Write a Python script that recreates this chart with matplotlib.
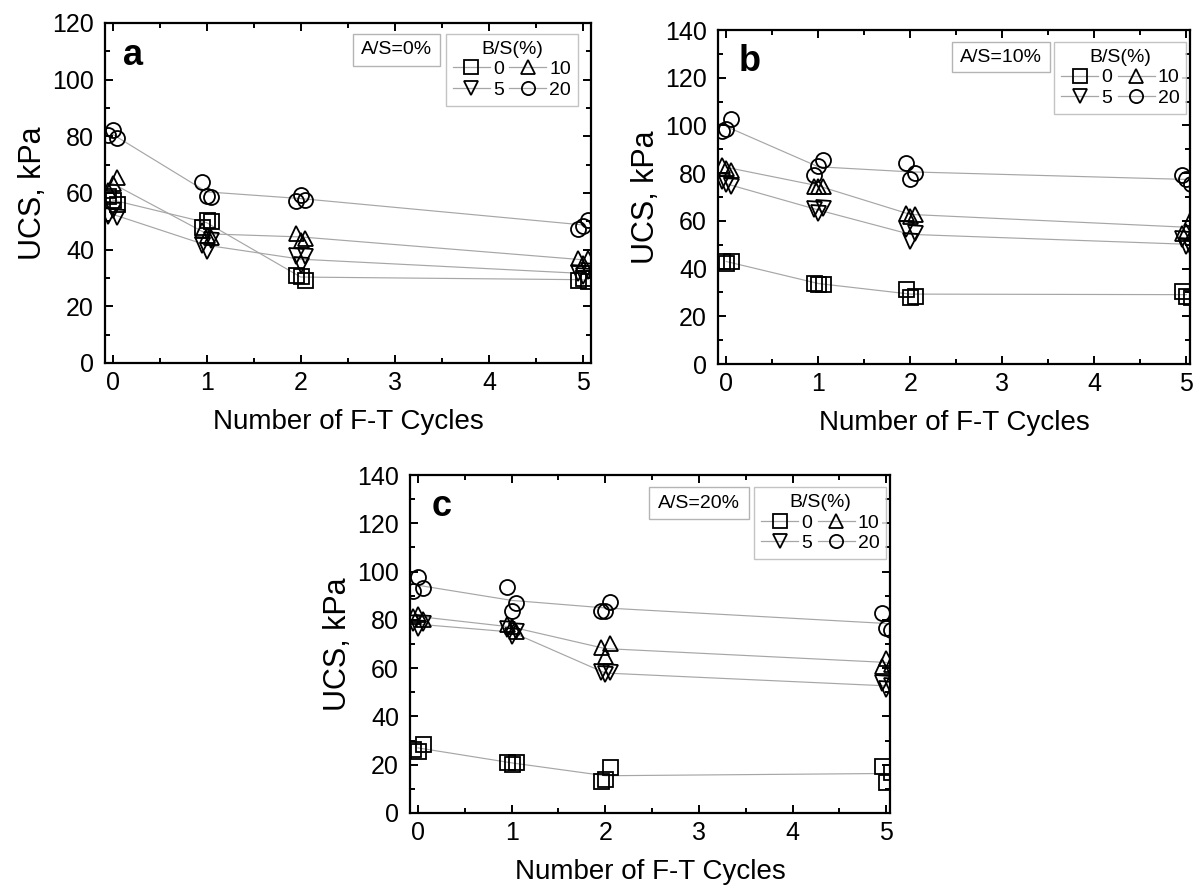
import numpy as np
import matplotlib
matplotlib.use('Agg')
import matplotlib.pyplot as plt
from matplotlib.ticker import MultipleLocator
from matplotlib.lines import Line2D
from matplotlib.patches import Rectangle

plt.rcParams['font.family'] = ['Liberation Sans', 'DejaVu Sans']

# ---------------- data ----------------
cycles = [0, 1, 2, 5]
bs_labels = ['0', '5', '10', '20']
panel_letters = ['a', 'b', 'c']
as_labels = ['A/S=0%', 'A/S=10%', 'A/S=20%']
xlabel = 'Number of F-T Cycles'
ylabel = 'UCS, kPa'

# replicate UCS values (kPa), one list per cycle, three replicates each
a_bs0 = [[59.0, 57.6, 56.0], [48.0, 50.6, 50.0], [31.2, 30.6, 29.2], [29.4, 30.0, 28.8]]
a_bs5 = [[52.0, 54.0, 51.5], [41.8, 39.4, 43.5], [37.6, 34.7, 37.6], [31.8, 30.6, 32.4]]
a_bs10 = [[61.0, 63.5, 65.5], [47.0, 45.3, 44.5], [45.9, 43.5, 44.1], [37.0, 35.3, 37.0]]
a_bs20 = [[80.6, 82.1, 79.5], [63.8, 58.8, 58.6], [57.1, 59.4, 57.6], [47.3, 48.5, 50.4]]

b_bs0 = [[43.2, 42.5, 43.2], [34.1, 33.4, 33.7], [31.4, 27.9, 28.6], [30.7, 28.6, 27.9]]
b_bs5 = [[76.7, 75.3, 74.6], [64.8, 63.4, 65.5], [56.4, 51.6, 55.0], [52.3, 49.5, 48.8]]
b_bs10 = [[83.6, 82.2, 81.5], [74.6, 74.6, 74.8], [63.4, 62.0, 62.7], [55.0, 55.7, 61.3]]
b_bs20 = [[97.6, 98.3, 102.7], [79.4, 82.9, 85.7], [84.3, 77.4, 79.9], [79.4, 77.4, 75.3]]

c_bs0 = [[26.5, 25.8, 28.6], [21.0, 20.3, 21.0], [13.4, 14.0, 18.9], [19.6, 12.7, 16.8]]
c_bs5 = [[78.9, 76.8, 78.9], [76.1, 73.4, 75.4], [58.2, 57.5, 58.2], [54.0, 51.3, 52.7]]
c_bs10 = [[81.6, 82.3, 80.3], [78.2, 77.5, 75.4], [68.6, 65.1, 70.6], [61.0, 64.4, 61.7]]
c_bs20 = [[92.0, 97.9, 93.1], [93.7, 83.7, 86.8], [83.7, 83.7, 87.4], [82.8, 76.8, 75.9]]

panels_data = [
    [a_bs0, a_bs5, a_bs10, a_bs20],
    [b_bs0, b_bs5, b_bs10, b_bs20],
    [c_bs0, c_bs5, c_bs10, c_bs20],
]

# ---------------- style / layout ----------------
markers = ['s', 'v', '^', 'o']
rep_offsets = [-0.05, 0.0, 0.05]
line_color = '#a6a6a6'
box_color = '#b4b4b4'

axes_rects = [
    [105 / 1201, 1 - 363 / 892, 486 / 1201, 340 / 892],
    [718 / 1201, 1 - 364 / 892, 472 / 1201, 334 / 892],
    [410 / 1201, 1 - 813 / 892, 480 / 1201, 338 / 892],
]
xlims = [(-0.08, 5.085), (-0.09, 5.04), (-0.085, 5.04)]
ylims = [(0, 120), (0, 140), (0, 140)]
letter_pos = [(0.058, 0.903), (0.068, 0.907), (0.065, 0.908)]
# A/S box (x0, y0, x1, y1) in axes fraction
as_rect = [(0.510, 0.874, 0.690, 0.968),
           (0.496, 0.874, 0.703, 0.964),
           (0.498, 0.870, 0.706, 0.964)]
leg_anchor = [(0.973, 0.968), (0.992, 0.964), (0.992, 0.964)]

fig = plt.figure(figsize=(12.01, 8.92), dpi=100)

for p in range(3):
    ax = fig.add_axes(axes_rects[p])
    for s, series in enumerate(panels_data[p]):
        arr = np.array(series)
        means = arr.mean(axis=1)
        ax.plot(cycles, means, color=line_color, lw=0.85, zorder=1)
        for r in range(arr.shape[1]):
            xs = np.array(cycles) + rep_offsets[r]
            ax.plot(xs, arr[:, r], linestyle='none', marker=markers[s],
                    markersize=10.8, markerfacecolor='none',
                    markeredgecolor='black', markeredgewidth=1.3, zorder=3)
    ax.set_xlim(*xlims[p])
    ax.set_ylim(*ylims[p])
    ax.xaxis.set_major_locator(MultipleLocator(1))
    ax.xaxis.set_minor_locator(MultipleLocator(0.5))
    ax.yaxis.set_major_locator(MultipleLocator(20))
    ax.yaxis.set_minor_locator(MultipleLocator(10))
    ax.tick_params(which='both', direction='in', top=True, right=True,
                   labelsize=18, width=1.4)
    ax.tick_params(which='major', length=6)
    ax.tick_params(which='minor', length=3.5)
    ax.tick_params(axis='x', which='major', pad=6)
    ax.tick_params(axis='y', which='major', pad=8)
    for sp in ax.spines.values():
        sp.set_linewidth(1.6)
    ax.set_xlabel(xlabel, fontsize=20, labelpad=10)
    ax.set_ylabel(ylabel, fontsize=22, labelpad=3)

    ax.text(letter_pos[p][0], letter_pos[p][1], panel_letters[p],
            transform=ax.transAxes, fontsize=26, fontweight='bold',
            ha='center', va='center')

    x0, y0, x1, y1 = as_rect[p]
    ax.add_patch(Rectangle((x0, y0), x1 - x0, y1 - y0, transform=ax.transAxes,
                           fc='white', ec=box_color, lw=1.0, zorder=4))
    ax.text((x0 + x1) / 2, (y0 + y1) / 2, as_labels[p], transform=ax.transAxes,
            fontsize=14, ha='center', va='center', zorder=5)

    handles = [Line2D([], [], color=line_color, lw=0.9, marker=markers[s],
                      markersize=9.5, markerfacecolor='none',
                      markeredgecolor='black', markeredgewidth=1.3)
               for s in range(4)]
    leg = ax.legend(handles, bs_labels, title='B/S(%)', ncol=2,
                    loc='upper right', bbox_to_anchor=leg_anchor[p],
                    fontsize=14, title_fontsize=14, frameon=True,
                    fancybox=False, edgecolor=box_color, handlelength=1.9,
                    handletextpad=0.15, columnspacing=0.3, labelspacing=0.15,
                    borderpad=0.35, borderaxespad=0.0)
    leg.get_frame().set_linewidth(1.0)

fig.savefig('out.png', dpi=100)
